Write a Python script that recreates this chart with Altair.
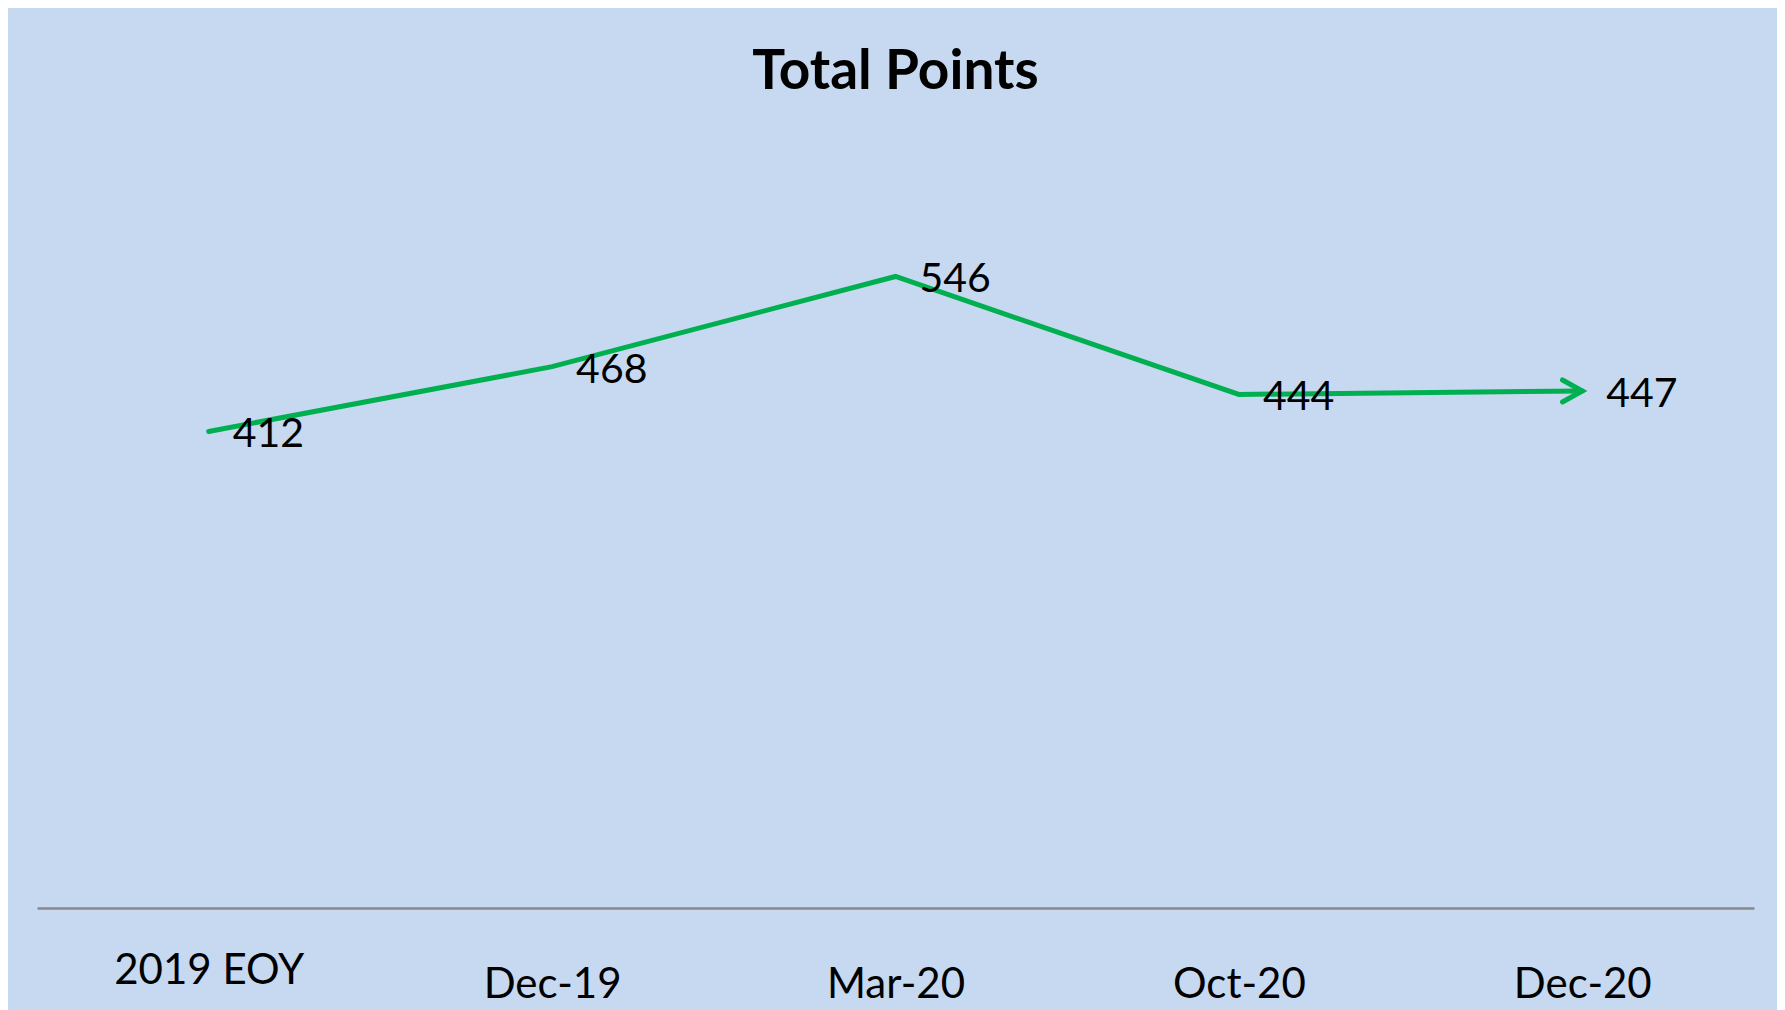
import altair as alt
import pandas as pd

categories = ["2019 EOY", "Dec-19", "Mar-20", "Oct-20", "Dec-20"]
points = [412, 468, 546, 444, 447]

df = pd.DataFrame({"period": categories, "points": points, "order": list(range(len(categories)))})
last = df.tail(1)

GREEN = "#00B050"
FONT = "Lato"

x_enc = alt.X(
    "period:N",
    sort=categories,
    scale=alt.Scale(type="point", padding=0.5),
    axis=alt.Axis(
        title=None,
        ticks=False,
        grid=False,
        labelAngle=0,
        labelFont=FONT,
        labelFontSize=42,
        labelColor="#000000",
        labelBaseline="middle",
        labelLimit=0,
        labelPadding={"condition": {"test": "datum.value == '2019 EOY'", "value": 62}, "value": 76},
        domainColor="#898989",
        domainWidth=2.5,
    ),
)
y_enc = alt.Y("points:Q", scale=alt.Scale(domain=[0, 600], nice=False, zero=True), axis=None)

line = alt.Chart(df).mark_line(color=GREEN, strokeWidth=5, strokeCap="round", strokeJoin="miter").encode(
    x=x_enc, y=y_enc, order="order:Q"
)

arrow = alt.Chart(last).mark_point(
    shape="M -1.8 -1 L 0 0 L -1.8 1",
    filled=False,
    stroke=GREEN,
    strokeWidth=5,
    strokeCap="round",
    strokeJoin="miter",
    size=484,
    opacity=1,
).encode(x=x_enc, y=y_enc)

labels = alt.Chart(df).mark_text(
    align="left", baseline="middle", dx=24, dy=4, font=FONT, fontSize=41, color="#000000"
).encode(x=x_enc, y=y_enc, text="points:Q")

chart = (
    alt.layer(line, arrow, labels)
    .properties(
        width=1717,
        height=694,
        background="#C6D9F0",
        padding={"left": 29, "top": 206, "right": 23, "bottom": 102},
        autosize=alt.AutoSizeParams(type="none"),
        title=alt.TitleParams(
            "Total Points",
            font=FONT,
            fontSize=55,
            fontWeight="bold",
            color="#000000",
            anchor="middle",
            baseline="alphabetic",
            offset=70,
        ),
    )
    .configure_view(stroke=None)
)

chart.save("out.html", embed_options={"renderer": "svg", "actions": False})
